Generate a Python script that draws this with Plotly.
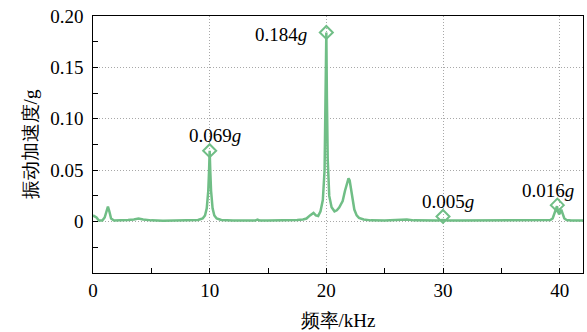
import plotly.graph_objects as go

# Spectrum (frequency in kHz, amplitude in g)
freq_khz = [0.0, 0.3, 0.5, 0.8, 1.0, 1.15, 1.28, 1.4, 1.55, 1.8, 2.5, 3.0, 3.5, 3.9, 4.3, 5.0,
            6.0, 7.0, 8.0, 9.0, 9.4, 9.6, 9.75, 9.88, 9.95, 10.0, 10.05, 10.12, 10.25, 10.4,
            10.6, 11.0, 12.0, 13.0, 13.9, 14.1, 14.3, 15.0, 16.0, 17.0, 17.5, 18.0, 18.3,
            18.6, 18.9, 19.1, 19.3, 19.5, 19.7, 19.85, 19.95, 20.0, 20.05, 20.12, 20.25,
            20.45, 20.7, 20.9, 21.1, 21.4, 21.6, 21.8, 21.9, 22.0, 22.15, 22.3, 22.4, 22.6,
            22.8, 23.2, 23.8, 25.0, 26.0, 26.9, 27.5, 28.5, 29.5, 30.0, 30.5, 31.5, 33.0,
            35.0, 37.0, 38.5, 39.2, 39.4, 39.55, 39.68, 39.77, 39.86, 39.95, 40.05, 40.14,
            40.25, 40.4, 40.6, 41.0, 42.0]
accel_g = [0.006, 0.004, 0.001, 0.001, 0.004, 0.010, 0.0145, 0.010, 0.003, 0.001, 0.001,
           0.0015, 0.002, 0.003, 0.002, 0.0012, 0.0008, 0.001, 0.0012, 0.0015, 0.003, 0.006,
           0.013, 0.030, 0.050, 0.069, 0.050, 0.030, 0.013, 0.006, 0.003, 0.0015, 0.001,
           0.001, 0.001, 0.002, 0.001, 0.001, 0.001, 0.0015, 0.0015, 0.002, 0.003, 0.006,
           0.0084, 0.006, 0.0055, 0.010, 0.021, 0.050, 0.120, 0.184, 0.120, 0.060, 0.025,
           0.014, 0.010, 0.011, 0.0136, 0.020, 0.030, 0.040, 0.042, 0.040, 0.030, 0.017,
           0.0117, 0.006, 0.0036, 0.002, 0.0012, 0.001, 0.0012, 0.002, 0.0012, 0.001,
           0.001, 0.0015, 0.001, 0.001, 0.001, 0.001, 0.001, 0.001, 0.0015, 0.003, 0.008,
           0.013, 0.015, 0.010, 0.007, 0.009, 0.0117, 0.008, 0.003, 0.0015, 0.001, 0.001]

# Marked peaks
peak_freq = [10.0, 20.0, 30.0, 39.8]
peak_val = [0.069, 0.184, 0.005, 0.016]
peak_text = ["0.069<i>g</i>", "0.184<i>g</i>", "0.005<i>g</i>", "0.016<i>g</i>"]
label_dx = [5, -45, 5, -9]
label_dy = [15, -2, 15, 15]

x_ticks = [0, 10, 20, 30, 40]
y_ticks = [0, 0.05, 0.10, 0.15, 0.20]
y_ticktext = ["0\u00a0", "0.05\u00a0", "0.10\u00a0", "0.15\u00a0", "0.20\u00a0"]

GREEN = "rgb(112,190,134)"
SERIF = "Liberation Serif"

fig = go.Figure()
fig.add_trace(go.Scatter(x=freq_khz, y=accel_g, mode="lines",
                         line=dict(color=GREEN, width=2.5), showlegend=False,
                         hoverinfo="skip"))
fig.add_trace(go.Scatter(x=peak_freq, y=peak_val, mode="markers",
                         marker=dict(symbol="diamond-open", size=10, color=GREEN,
                                     line=dict(width=2, color=GREEN)),
                         showlegend=False, hoverinfo="skip"))

for fx, fy, t, dx, dy in zip(peak_freq, peak_val, peak_text, label_dx, label_dy):
    fig.add_annotation(x=fx, y=fy, text=t, showarrow=False, xshift=dx, yshift=dy,
                       xanchor="center", yanchor="middle",
                       font=dict(family=SERIF, size=19, color="black"))

axis_common = dict(
    showline=True, linecolor="black", linewidth=1, mirror=True,
    ticks="inside", ticklen=5, tickcolor="black", tickwidth=1,
    showgrid=True, gridcolor="#a8a8a8", gridwidth=1, griddash="1px,2px",
    zeroline=False, automargin=False,
    tickfont=dict(family=SERIF, size=19, color="black"),
)

fig.update_xaxes(range=[0, 42], tickvals=x_ticks,
                 minor=dict(dtick=5, tick0=0, ticks="inside", ticklen=5,
                            tickcolor="black", showgrid=False),
                 title=dict(text="频率/kHz", standoff=13,
                            font=dict(family=SERIF, size=19, color="black")),
                 **axis_common)
fig.update_yaxes(range=[-0.05, 0.2], tickvals=y_ticks, ticktext=y_ticktext,
                 minor=dict(dtick=0.025, tick0=0, ticks="inside", ticklen=5,
                            tickcolor="black", showgrid=False),
                 title=dict(text="振动加速度/g", standoff=7,
                            font=dict(family=SERIF, size=19, color="black")),
                 **axis_common)

fig.update_layout(width=587, height=332,
                  margin=dict(l=93, r=4, t=16, b=59),
                  font=dict(family=SERIF, size=19, color="black"),
                  plot_bgcolor="white", paper_bgcolor="white")

fig.write_html("out.html", config={"displayModeBar": False},
               post_script="document.body.style.margin='0';")
